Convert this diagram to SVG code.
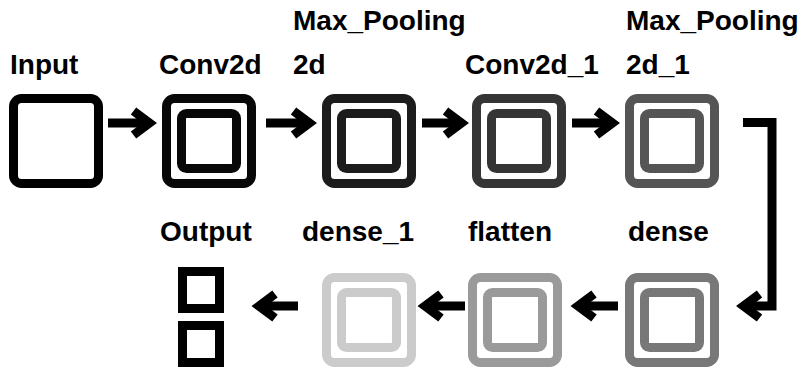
<svg xmlns="http://www.w3.org/2000/svg" width="806" height="371" viewBox="0 0 806 371">
  <style>
    .lbl { font-family: "Liberation Sans", Arial, sans-serif; font-weight: bold; font-size: 28px; fill: #000; }
    .box { fill: none; stroke-width: 9; }
    .sq { fill: none; stroke: #000; stroke-width: 9; }
    .conn { fill: none; stroke: #000; stroke-width: 9; marker-end: url(#chev); }
  </style>
  <defs>
    <marker id="chev" markerUnits="userSpaceOnUse" markerWidth="40" markerHeight="40" refX="0" refY="0" viewBox="-20 -20 40 40" orient="auto" overflow="visible">
      <path d="M-14,-12 L2,0 L-14,12" fill="none" stroke="#000" stroke-width="9" stroke-linejoin="miter"/>
    </marker>
  </defs>

  <rect width="806" height="371" fill="#fff"/>

  <!-- top row -->
  <g id="input">
    <rect class="box" x="13.5" y="98.5" width="85" height="85" rx="8" stroke="#000"/>
    <text class="lbl" x="10" y="74">Input</text>
  </g>
  <g id="conv2d">
    <rect class="box" x="166.5" y="98.5" width="85" height="85" rx="8" stroke="#080808"/>
    <rect class="box" x="181.5" y="113.5" width="55" height="55" rx="5" stroke="#080808"/>
    <text class="lbl" x="159" y="74">Conv2d</text>
  </g>
  <g id="max_pooling2d">
    <rect class="box" x="326.5" y="98.5" width="85" height="85" rx="8" stroke="#1c1c1c"/>
    <rect class="box" x="341.5" y="113.5" width="55" height="55" rx="5" stroke="#1c1c1c"/>
    <text class="lbl" x="293" y="30">Max_Pooling</text>
    <text class="lbl" x="293" y="74">2d</text>
  </g>
  <g id="conv2d_1">
    <rect class="box" x="476.5" y="98.5" width="85" height="85" rx="8" stroke="#353535"/>
    <rect class="box" x="491.5" y="113.5" width="55" height="55" rx="5" stroke="#353535"/>
    <text class="lbl" x="465" y="74">Conv2d_1</text>
  </g>
  <g id="max_pooling2d_1">
    <rect class="box" x="629.5" y="98.5" width="85" height="85" rx="8" stroke="#555"/>
    <rect class="box" x="644.5" y="113.5" width="55" height="55" rx="5" stroke="#555"/>
    <text class="lbl" x="626" y="30">Max_Pooling</text>
    <text class="lbl" x="626" y="74">2d_1</text>
  </g>

  <!-- bottom row -->
  <g id="dense">
    <rect class="box" x="629.5" y="277.5" width="85" height="85" rx="8" stroke="#787878"/>
    <rect class="box" x="644.5" y="292.5" width="55" height="55" rx="5" stroke="#787878"/>
    <text class="lbl" x="628" y="241">dense</text>
  </g>
  <g id="flatten">
    <rect class="box" x="472.5" y="277.5" width="85" height="85" rx="8" stroke="#9a9a9a"/>
    <rect class="box" x="487.5" y="292.5" width="55" height="55" rx="5" stroke="#9a9a9a"/>
    <text class="lbl" x="468" y="241">flatten</text>
  </g>
  <g id="dense_1">
    <rect class="box" x="326.5" y="277.5" width="85" height="85" rx="8" stroke="#cbcbcb"/>
    <rect class="box" x="341.5" y="292.5" width="55" height="55" rx="5" stroke="#cbcbcb"/>
    <text class="lbl" x="302" y="241">dense_1</text>
  </g>
  <g id="output">
    <rect class="sq" x="182.5" y="271.5" width="37" height="37"/>
    <rect class="sq" x="182.5" y="325.5" width="37" height="37"/>
    <text class="lbl" x="160" y="241">Output</text>
  </g>

  <!-- connectors -->
  <g id="connectors">
    <path class="conn" d="M108,123 H147.5"/>
    <path class="conn" d="M266,123 H307.5"/>
    <path class="conn" d="M422,123 H459.5"/>
    <path class="conn" d="M572,123 H610.5"/>
    <path class="conn" d="M743,122.5 H772 V306 H745.5"/>
    <path class="conn" d="M618,306 H580"/>
    <path class="conn" d="M465,306 H427"/>
    <path class="conn" d="M298,306 H261"/>
  </g>
</svg>
